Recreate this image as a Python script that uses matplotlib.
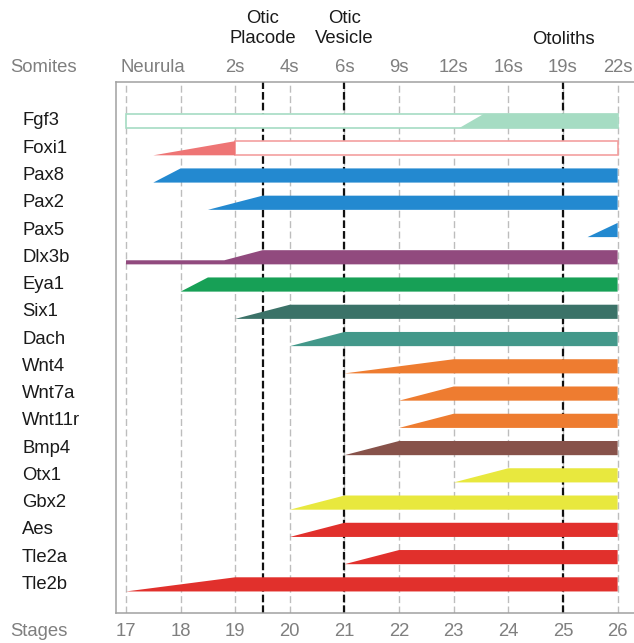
import matplotlib
matplotlib.use("Agg")
import matplotlib.pyplot as plt
from matplotlib.patches import Polygon, Rectangle
import matplotlib.transforms as mtransforms

plt.rcParams['font.family'] = ['Liberation Sans', 'DejaVu Sans']
plt.rcParams['lines.scale_dashes'] = False

# Genes, top to bottom
genes = ["Fgf3", "Foxi1", "Pax8", "Pax2", "Pax5", "Dlx3b", "Eya1", "Six1", "Dach",
         "Wnt4", "Wnt7a", "Wnt11r", "Bmp4", "Otx1", "Gbx2", "Aes", "Tle2a", "Tle2b"]
# Stage where expression onset begins (ramp start) and reaches full level
onset_start = [23.1, 17.5, 17.5, 18.5, 25.45, 18.8, 18.0, 19.0, 20.0,
               21.0, 22.0, 22.0, 21.0, 23.0, 20.0, 20.0, 21.0, 17.0]
onset_full = [23.55, 19.0, 18.0, 19.5, 26.0, 19.5, 18.5, 20.0, 21.0,
              23.0, 23.0, 23.0, 22.0, 24.0, 21.0, 21.0, 22.0, 19.0]
# Stage where the filled band stops
fill_end = [26, 19, 26, 26, 26, 26, 26, 26, 26,
            26, 26, 26, 26, 26, 26, 26, 26, 26]
colors = ["#a6dcc3", "#ee7575", "#2389d0", "#2389d0", "#2389d0", "#914a7e",
          "#17a056", "#3b7268", "#43988a", "#ee7c30", "#ee7c30", "#ee7c30",
          "#87524a", "#e8e83e", "#e8e83e", "#e1302c", "#e1302c", "#e1302c"]
# Weak / uncertain expression drawn as open boxes: gene -> (from, to, edge colour)
open_spans = {"Fgf3": (17, 26, "#a6dcc3"), "Foxi1": (19, 26, "#f3a0a0")}
# Low-level expression trailing before the onset ramp: gene -> (from, to)
low_spans = {"Dlx3b": (17, 18.8)}

stages = [17, 18, 19, 20, 21, 22, 23, 24, 25, 26]
somite_pos = [17.5, 19, 20, 21, 22, 23, 24, 25, 26]
somite_labels = ["Neurula", "2s", "4s", "6s", "9s", "12s", "16s", "19s", "22s"]
event_pos = [19.5, 21, 25]
event_labels = ["Otic\nPlacode", "Otic\nVesicle", "Otoliths"]

W, H, DPI = 634, 643, 100
fig = plt.figure(figsize=(W / DPI, H / DPI), dpi=DPI)
ax = fig.add_axes([116 / W, 1 - 613 / H, 1 - 116 / W, (613 - 82) / H])

x0 = 16.817
x1 = 26.30
ax.set_xlim(x0, x1)
ax.set_ylim(18.05, -1.43)

half = 0.26
low_h = 0.15

# grid
for s in stages:
    ax.axvline(s, color="#bdbdbd", lw=1.0, ls=(0, (5, 2.5)), zorder=1)
for s in event_pos:
    ax.axvline(s, color="#111111", lw=1.6, ls=(0, (5.5, 2.2)), zorder=1)

for i, g in enumerate(genes):
    top, bot = i - half, i + half
    c = colors[i]
    if g in open_spans:
        a, b, ec = open_spans[g]
        ax.add_patch(Rectangle((a, top), b - a, bot - top, facecolor="white",
                               edgecolor=ec, lw=1.2, zorder=2))
    pts = [(onset_start[i], bot)]
    if g in low_spans:
        a, b = low_spans[g]
        pts = [(a, bot), (a, bot - low_h), (b, bot - low_h)]
    pts += [(onset_full[i], top), (fill_end[i], top), (fill_end[i], bot)]
    ax.add_patch(Polygon(pts, closed=True, facecolor=c, edgecolor="none", zorder=3))

ax.spines["right"].set_visible(False)
for side in ["left", "top", "bottom"]:
    ax.spines[side].set_color("#a0a0a0")
    ax.spines[side].set_linewidth(1.1)
ax.set_xticks([])
ax.set_yticks([])

gray = "#7f7f7f"
fs = 13.3
blend = mtransforms.blended_transform_factory(ax.transData, fig.transFigure)

def fy(py):
    return 1 - py / H

for p, lab in zip(somite_pos, somite_labels):
    ax.text(p, fy(68), lab, transform=blend, ha="center", va="center",
            fontsize=fs, color=gray)
for p, lab in zip(event_pos, event_labels):
    n = lab.count("\n") + 1
    ax.text(p, fy(39 - (n - 1) * 21 / 2), lab, transform=blend, ha="center",
            va="center", fontsize=fs, color="#1a1a1a", linespacing=1.2)
for s in stages:
    ax.text(s, fy(631), str(s), transform=blend, ha="center", va="center",
            fontsize=fs, color=gray)

fig.text(10 / W, fy(68), "Somites", ha="left", va="center", fontsize=fs, color=gray)
fig.text(10 / W, fy(631), "Stages", ha="left", va="center", fontsize=fs, color=gray)

ytr = mtransforms.blended_transform_factory(fig.transFigure, ax.transData)
for i, g in enumerate(genes):
    ax.text(22 / W, i, g, transform=ytr, ha="left", va="center",
            fontsize=fs, color="#1a1a1a")

fig.savefig("out.png", dpi=DPI)
